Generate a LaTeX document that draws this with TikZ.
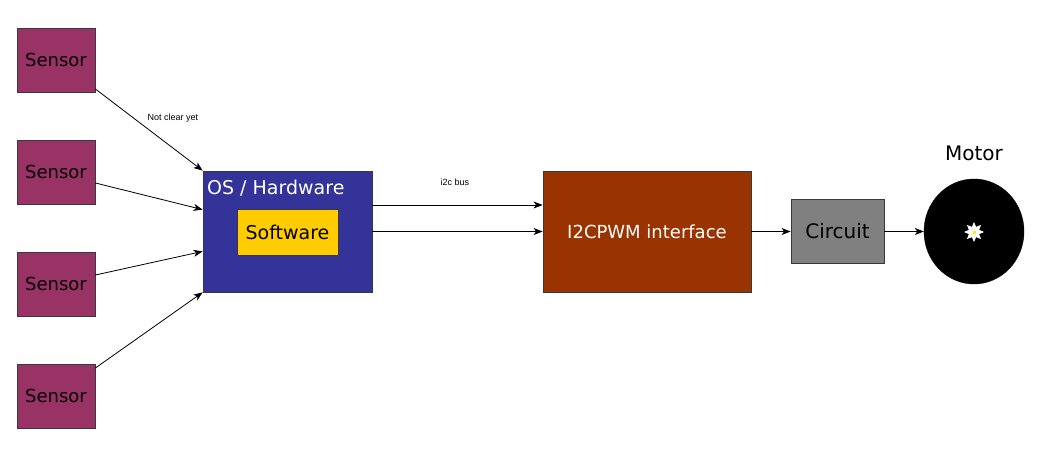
\documentclass[tikz,border=0pt]{standalone}
\usepackage{fontspec}
\setmainfont{DejaVu Sans}
\newfontfamily\smallfont{Liberation Sans}
\usetikzlibrary{arrows.meta,calc,shapes.geometric}
\definecolor{sensorc}{HTML}{993366}
\definecolor{osc}{HTML}{333399}
\definecolor{swc}{HTML}{FFCC00}
\definecolor{i2cc}{HTML}{993300}
\definecolor{circc}{HTML}{808080}
\definecolor{edgec}{HTML}{36393D}
\begin{document}
\begin{tikzpicture}[x=1pt,y=-1pt,
  box/.style={draw=edgec,line width=0.8pt,rectangle,inner sep=0pt},
  sensorbox/.style={box,fill=sensorc,minimum width=78pt,minimum height=64pt,font=\fontsize{18}{20}\selectfont},
  conn/.style={draw=black,line width=0.8pt,-{Stealth[length=9pt,width=7pt,inset=2.5pt]}},
  smalllabel/.style={font=\smallfont\fontsize{9}{10}\selectfont,inner sep=0pt}]
\useasboundingbox (0,0) rectangle (1045,473);
\fill[white] (0,0) rectangle (1045,473);
\node[sensorbox] (s1) at (56,60) {Sensor};
\node[sensorbox] (s2) at (56,172) {Sensor};
\node[sensorbox] (s3) at (56,284) {Sensor};
\node[sensorbox] (s4) at (56,396) {Sensor};
\node[box,fill=osc,minimum width=169pt,minimum height=121pt] (os) at (287.5,231.5) {};
\node[anchor=west,text=white,inner sep=0pt,font=\fontsize{19}{21}\selectfont] (ostext) at (207,188) {OS / Hardware};
\node[box,fill=swc,minimum width=101pt,minimum height=46pt,font=\fontsize{19}{21}\selectfont] (sw) at (287.5,232) {Software};
\node[box,fill=i2cc,text=white,minimum width=208pt,minimum height=121pt,font=\fontsize{18}{20}\selectfont] (i2c) at (647,231.5) {I2CPWM interface};
\node[box,fill=circc,minimum width=93pt,minimum height=64pt,font=\fontsize{20}{22}\selectfont] (circ) at (837.5,231.5) {Circuit};
\node[ellipse,fill=black,draw=black,minimum width=100pt,minimum height=105pt,inner sep=0pt] (motor) at (974,231.5) {};
\node[star,star points=8,star point ratio=1.8,fill=white,minimum size=20pt,inner sep=0pt] (hub) at (974,232) {};
\node[rectangle,fill=yellow,draw=white,line width=0.5pt,minimum size=4pt,inner sep=0pt] (hubc) at (974,232) {};
\node[inner sep=0pt,font=\fontsize{20}{22}\selectfont] (motorlabel) at (974,153) {Motor};
\node[smalllabel] (l1) at (173,118) {Not clear yet};
\node[smalllabel] (l2) at (455,182) {i2c bus};
\draw[conn] ($(s1.east)+(0,29)$) -- (os.north west);
\draw[conn] ($(s2.east)+(0,11)$) -- ($(os.north west)+(0,39)$);
\draw[conn] ($(s3.east)+(0,-9)$) -- ($(os.south west)+(0,-41)$);
\draw[conn] ($(s4.east)+(0,-28)$) -- (os.south west);
\draw[conn] ($(os.east)+(0,-26.5)$) -- ($(i2c.west)+(0,-26.5)$);
\draw[conn] (os.east) -- (i2c.west);
\draw[conn] (i2c.east) -- (circ.west);
\draw[conn] (circ.east) -- (motor.west);
\end{tikzpicture}
\end{document}
